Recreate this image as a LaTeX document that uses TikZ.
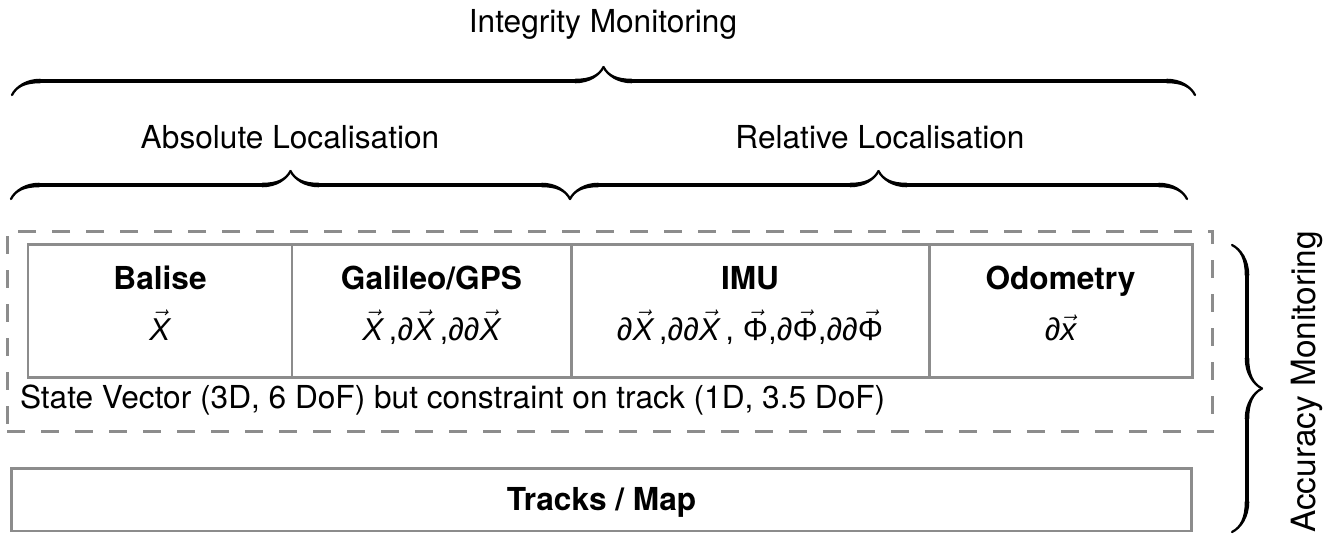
\documentclass[tikz,border=0pt]{standalone}
\usepackage{fontspec}
\setmainfont{TeX Gyre Heros}
\newfontfamily\formfont{Liberation Sans}
\usepackage{xcolor}
\usepackage{tikz}
\usetikzlibrary{
  decorations.pathreplacing,
  calligraphy,
}

\definecolor{boxgray}{RGB}{140,140,140}

% sans vectors and partials for the sensor cells
\newcommand{\svec}[1]{$\vec{\mbox{\formfont\itshape #1}}$}
\newcommand{\svecup}[1]{$\vec{\mbox{\formfont #1}}$}
\newcommand{\spart}{{\formfont\itshape ∂}}

\begin{document}
\begin{tikzpicture}[
  x=0.02cm, y=-0.02cm,
  font=\fontsize{18}{21}\selectfont,
  every node/.style={inner sep=0pt, outer sep=0pt},
  cell/.style={draw=boxgray, line width=1.7pt, minimum height=2.68cm},
  dashbox/.style={draw=boxgray, line width=1.7pt, dash pattern=on 0.36cm off 0.32cm},
  title/.style={anchor=base, font=\fontsize{18}{21}\selectfont\bfseries},
  formula/.style={anchor=base, font=\fontsize{18}{21}\selectfont\formfont},
  lbl/.style={anchor=base},
  cbrace/.style={decorate, decoration={calligraphic brace, amplitude=#1},
                 line width=2.6pt, pen colour=black},
  cbrace/.default=0.56cm,
]
\useasboundingbox (0,0) rectangle (1335,537);

% braces over the sensor groups
\node[lbl] (integ) at (603,33)  {Integrity Monitoring};
\node[lbl] (absl)  at (290,149) {Absolute Localisation};
\node[lbl] (rell)  at (880,149) {Relative Localisation};

\draw[cbrace] (12,95) -- (1195,95);
\draw[cbrace] (11,199) -- (570,199);
\draw[cbrace] (570,199) -- (1187,199);

% state vector frame with the four sensors
\node[dashbox, minimum width=24.12cm, minimum height=4.02cm] (svbox) at (610,331.5) {};

\foreach \nm/\xa/\xb/\ttl/\frm in {
  bal/28/292/Balise/{\svec{X}},
  gal/292/571/{Galileo/GPS}/{\svec{X}\,,\spart\svec{X}\,,\spart\spart\svec{X}},
  imu/571/929/IMU/{\spart\svec{X}\,,\spart\spart\svec{X}\,, \svecup{Φ},\spart\svecup{Φ},\spart\spart\svecup{Φ}},
  odo/929/1192/Odometry/{\spart\svec{x}}%
}{
  \node[cell, minimum width={(\xb-\xa)*0.02cm}] (\nm) at ({(\xa+\xb)/2},311) {};
  \node[title]   (\nm t) at ({(\xa+\xb)/2},289) {\ttl};
  \node[formula] (\nm f) at ({(\xa+\xb)/2},340) {\frm};
}

\node[anchor=base west] (state) at (20,408)
  {State Vector (3D, 6 DoF) but constraint on track (1D, 3.5 DoF)};

% map layer
\node[cell, minimum width=23.62cm, minimum height=1.26cm] (tracks) at (601.5,499.5) {};
\node[title] (trackst) at (601.5,510) {Tracks / Map};

\draw[cbrace=0.6cm] (1232,245) -- (1232,532);
\node[lbl, rotate=90, font=\fontsize{19}{22}\selectfont] (accu) at (1315,382) {Accuracy Monitoring};

\end{tikzpicture}
\end{document}
